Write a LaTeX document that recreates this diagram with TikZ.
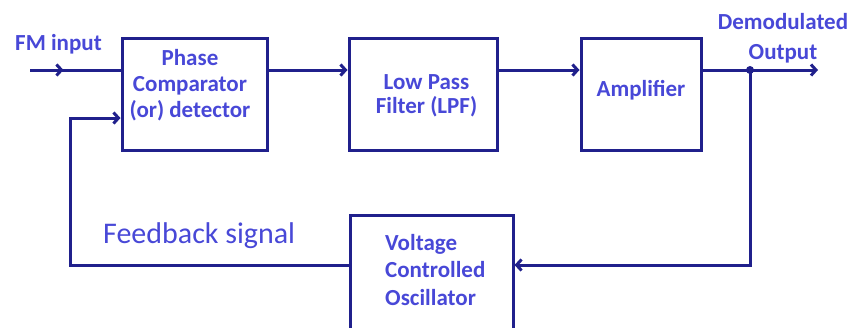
\documentclass[tikz,border=0pt]{standalone}
\usepackage{fontspec}
\setmainfont{Carlito}
\usetikzlibrary{arrows.meta,decorations.markings}
\definecolor{linec}{RGB}{32,32,140}
\definecolor{textc}{RGB}{72,72,215}
\tikzset{
  blk/.style={draw=linec,line width=3pt,rectangle,inner sep=0pt,fill=none},
  lbl/.style={text=textc,inner sep=0pt,font=\fontsize{23}{26}\selectfont\bfseries,align=center},
  wire/.style={draw=linec,line width=3pt},
  tip/.style={-{Straight Barb[length=5pt,width=11pt]}},
  midtip/.style={postaction={decorate},decoration={markings,mark=at position 0.37 with {\arrow{Straight Barb[length=5pt,width=11pt]}}}}
}
\begin{document}
\begin{tikzpicture}[x=1pt,y=-1pt]
\useasboundingbox (0,0) rectangle (851,327);
% blocks
\node[blk,minimum width=145pt,minimum height=112pt] (pc) at (194.5,94) {};
\node[blk,minimum width=148pt,minimum height=112pt] (lpf) at (423,94) {};
\node[blk,minimum width=120pt,minimum height=112pt] (amp) at (641,94) {};
\node[blk,minimum width=163pt,minimum height=130pt] (vco) at (431.5,280) {};
% block texts
\node[lbl] (pct) at (190,85.5) {Phase\\Comparator\\(or) detector};
\node[lbl,font=\fontsize{23}{24}\selectfont\bfseries] (lpft) at (426.5,96) {Low Pass\\Filter (LPF)};
\node[lbl] (ampt) at (641,90.5) {Amplifier};
\node[lbl,align=left,anchor=west,font=\fontsize{23}{27.5}\selectfont\bfseries] (vcot) at (385,270) {Voltage\\Controlled\\Oscillator};
% other labels
\node[lbl,anchor=base west] (fmt) at (15,50) {FM input};
\node[lbl,font=\fontsize{23}{30}\selectfont\bfseries] (dmt) at (783,38) {Demodulated\\Output};
\node[text=textc,inner sep=0pt,anchor=base west,font=\fontsize{30}{34}\selectfont] (fbt) at (103,243) {Feedback signal};
% coordinates
\coordinate (in) at (30,70);
\coordinate (j) at (750,70);
\coordinate (out) at (818,70);
\coordinate (jb) at (750,265);
\coordinate (fb) at (70,265);
\coordinate (fbtop) at (70,118);
% connectors
\draw[wire,midtip] (in) -- (in -| pc.west);
\draw[wire,tip] (pc.east |- in) -- (lpf.west |- in);
\draw[wire,tip] (lpf.east |- in) -- (amp.west |- in);
\draw[wire,tip] (amp.east |- in) -- (out);
\draw[wire,tip] (j) -- (jb) -- (vco.east |- jb);
\draw[wire,tip] (vco.west |- jb) -- (fb) -- (fbtop) -- (pc.west |- fbtop);
\fill[linec] (j) circle (4pt);
\end{tikzpicture}
\end{document}
